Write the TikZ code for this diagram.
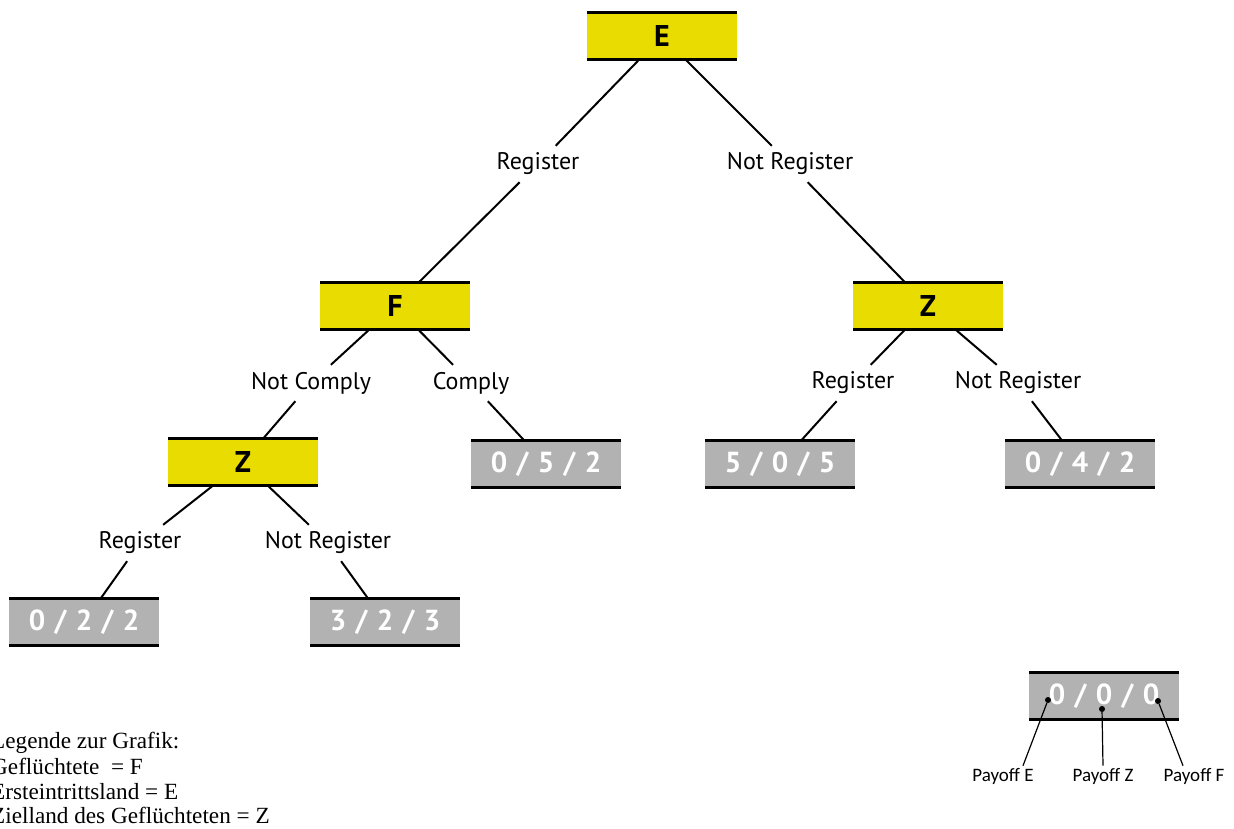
\documentclass[tikz,border=0pt]{standalone}
\usepackage{fontspec}
\setmainfont{PT Sans}
\newfontfamily\keyfont{Carlito}
\newfontfamily\legendfont{Liberation Serif}
\usetikzlibrary{positioning}
\definecolor{playeryellow}{RGB}{232,220,0}
\definecolor{payoffgray}{RGB}{178,178,178}
\tikzset{
      rim/.style = {black, line width=3pt},
      box/.style = {minimum width=150pt, minimum height=46pt, inner sep=0pt,
        append after command={
          (\tikzlastnode.north west) edge[rim] (\tikzlastnode.north east)
          (\tikzlastnode.south west) edge[rim] (\tikzlastnode.south east)}},
      player/.style = {box, fill=playeryellow, font=\fontsize{30}{30}\selectfont\bfseries},
      payoff/.style = {box, fill=payoffgray, text=white,
        font=\fontsize{29}{29}\selectfont\bfseries\addfontfeatures{LetterSpace=7}},
      move/.style = {font=\fontsize{24}{27}\selectfont, inner sep=0pt, minimum height=36pt},
      branch/.style = {black, line width=2pt},
      key dot/.style = {circle, fill=black, inner sep=0pt, minimum size=6pt},
      key label/.style = {font=\keyfont\fontsize{19}{22}\selectfont, inner sep=2pt},
      legend line/.style = {font=\legendfont\fontsize{23.2}{26}\selectfont, anchor=base west, inner sep=0pt},
    }

\begin{document}
\begin{tikzpicture}[x=1pt,y=-1pt]
        \useasboundingbox (0,0) rectangle (1234,828);

        % players
        \node [player] (E)  at (662,36)  {E};
        \node [player] (F)  at (395,306) {F};
        \node [player] (Zr) at (928,306) {Z};
        \node [player] (Zl) at (243,462) {Z};

        % payoffs
        \node [payoff] (p052) at (546,464)  {0 / 5 / 2};
        \node [payoff] (p505) at (780,464)  {5 / 0 / 5};
        \node [payoff] (p042) at (1080,464) {0 / 4 / 2};
        \node [payoff] (p022) at (84,622)   {0 / 2 / 2};
        \node [payoff] (p323) at (385,622)  {3 / 2 / 3};

        % moves
        \node [move] (eReg)  at (538,164)  {Register};
        \node [move] (eNot)  at (790,164)  {Not Register};
        \node [move] (fNot)  at (311,383)  {Not Comply};
        \node [move] (fCom)  at (471,383)  {Comply};
        \node [move] (zrReg) at (853,383)  {Register};
        \node [move] (zrNot) at (1018,383) {Not Register};
        \node [move] (zlReg) at (140,543)  {Register};
        \node [move] (zlNot) at (328,543)  {Not Register};

        \path[branch]
        (E) edge (eReg)
        (eReg) edge (F)
        (E) edge (eNot)
        (eNot) edge (Zr)

        (F) edge (fNot)
        (fNot) edge (Zl)
        (F) edge (fCom)
        (fCom) edge (p052)

        (Zr) edge (zrReg)
        (zrReg) edge (p505)
        (Zr) edge (zrNot)
        (zrNot) edge (p042)

        (Zl) edge (zlReg)
        (zlReg) edge (p022)
        (Zl) edge (zlNot)
        (zlNot) edge (p323);

        % key to the payoffs
        \node [payoff] (key) at (1104,696) {0 / 0 / 0};
        \node [key dot] (dE) at (1048,700) {};
        \node [key dot] (dZ) at (1102,709) {};
        \node [key dot] (dF) at (1158,701) {};
        \node [key label] (kE) at (1003,776) {Payoff E};
        \node [key label] (kZ) at (1103,776) {Payoff Z};
        \node [key label] (kF) at (1194,776) {Payoff F};
        \draw[line width=1.2pt] (dE) -- ([xshift=20pt]kE.north);
        \draw[line width=1.2pt] (dZ) -- (kZ.north);
        \draw[line width=1.2pt] (dF) -- ([xshift=-11pt]kF.north);

        % legend
        \node [legend line] (leg1) at (-9,748) {Legende zur Grafik:};
        \node [legend line] (leg2) at (-9,774) {Geflüchtete~ = F};
        \node [legend line] (leg3) at (-9,799) {Ersteintrittsland = E};
        \node [legend line] (leg4) at (-9,823) {Zielland des Geflüchteten = Z};
    \end{tikzpicture}
\end{document}
